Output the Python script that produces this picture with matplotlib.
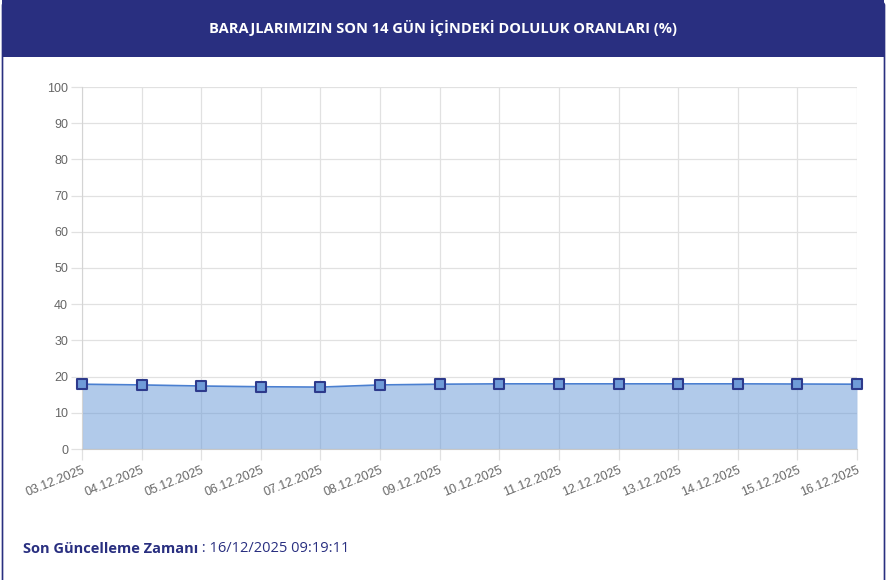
import matplotlib
matplotlib.use("Agg")
import matplotlib.pyplot as plt
from matplotlib.patches import Rectangle, FancyBboxPatch
from matplotlib.markers import MarkerStyle

dates = ["03.12.2025", "04.12.2025", "05.12.2025", "06.12.2025", "07.12.2025",
         "08.12.2025", "09.12.2025", "10.12.2025", "11.12.2025", "12.12.2025",
         "13.12.2025", "14.12.2025", "15.12.2025", "16.12.2025"]
values = [17.9, 17.7, 17.4, 17.2, 17.1, 17.7, 17.9, 18.0, 18.0, 18.0, 18.0, 18.0, 17.95, 17.9]
yticks = [0, 10, 20, 30, 40, 50, 60, 70, 80, 90, 100]

title = "BARAJLARIMIZIN SON 14 GÜN İÇİNDEKİ DOLULUK ORANLARI (%)"
footer_label = "Son Güncelleme Zamanı"
footer_value = " : 16/12/2025 09:19:11"

plt.rcParams["font.family"] = ["Liberation Sans", "DejaVu Sans"]

W, H = 887, 580
NAVY = "#292f80"
fig = plt.figure(figsize=(W / 100, H / 100), dpi=100)
fig.patch.set_facecolor("white")

def fx(px):
    return px / W

def fy(py):
    return 1 - py / H

# card border
card = FancyBboxPatch((fx(2.5), fy(600)), fx(882), (600 - 2) / H,
                      boxstyle="round,pad=0,rounding_size=0.006",
                      transform=fig.transFigure, facecolor="white",
                      edgecolor=NAVY, linewidth=1.2, zorder=-2)
fig.patches.append(card)
# header
header = Rectangle((fx(2.5), fy(57)), fx(882), 57 / H, transform=fig.transFigure,
                   facecolor=NAVY, edgecolor="none", zorder=-1)
fig.patches.append(header)
fig.text(0.5, fy(28), title, color="white", fontsize=10.5, fontweight="bold",
         family="Open Sans", ha="center", va="center")

ax = fig.add_axes([fx(82), fy(449), fx(857 - 82), (449 - 87) / H])
ax.set_zorder(5)
ax.patch.set_alpha(0)
x = list(range(len(dates)))
ax.fill_between(x, values, 0, color="#6497d6", alpha=0.5, linewidth=0, zorder=2)
ax.plot(x, values, color="#4a7fd0", linewidth=1.2, zorder=3)
ax.plot(x, values, linestyle="none", marker=MarkerStyle("s", joinstyle="round"),
        markersize=6.5, markerfacecolor="#6f9bd8", markeredgecolor="#2d3a8c",
        markeredgewidth=1.5, zorder=4, clip_on=False)

ax.set_xlim(0, len(dates) - 1)
ax.set_ylim(0, 100)
ax.set_yticks(yticks)
ax.set_xticks(x)
ax.set_xticklabels(dates, rotation=22, ha="right", rotation_mode="anchor")
ax.grid(True, color="#e1e1e1", linewidth=0.9, zorder=0)
ax.set_axisbelow(True)
for s in ["top", "right"]:
    ax.spines[s].set_visible(False)
ax.spines["left"].set_color("#d4d4d4")
ax.spines["bottom"].set_color("#c8c8c8")
ax.tick_params(axis="both", colors="#e1e1e1", labelcolor="#666666", labelsize=9,
               length=8, width=0.9)
ax.tick_params(axis="x", pad=3)
ax.tick_params(axis="y", pad=2)

t1 = fig.text(fx(23), fy(549), footer_label, color=NAVY, fontsize=10.5,
              fontweight="bold", family="Open Sans", ha="left", va="center")
fig.canvas.draw()
bb = t1.get_window_extent()
fig.text(bb.x1 / W, fy(549), footer_value, color=NAVY, fontsize=10.5,
         family="Open Sans", ha="left", va="center")

fig.savefig("out.png", dpi=100, facecolor="white")
